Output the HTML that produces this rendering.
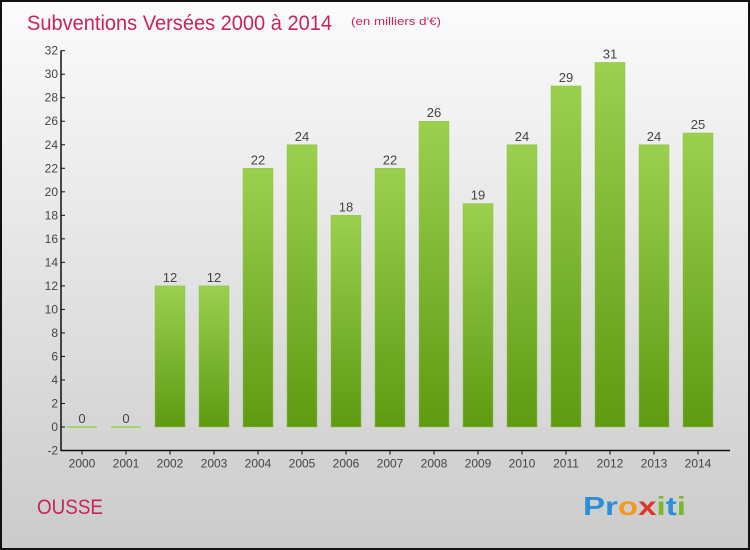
<!DOCTYPE html>
<html><head><meta charset="utf-8"><style>
body{margin:0;}
#wrap{position:relative;width:746px;height:546px;border:2px solid #111;background:linear-gradient(#fbfbfb,#cbcbcb);overflow:hidden;font-family:"Liberation Sans",sans-serif;}
</style></head><body>
<div id="wrap">
<svg id="chart" width="746" height="546">
<defs><linearGradient id="g" x1="0" y1="0" x2="0" y2="1"><stop offset="0" stop-color="#9bd04e"/><stop offset="1" stop-color="#5e9a12"/></linearGradient></defs>
<text x="25" y="28" font-size="21" fill="#c8245a" textLength="305" lengthAdjust="spacingAndGlyphs">Subventions Versées 2000 à 2014</text>
<text x="349" y="23" font-size="11" fill="#c8245a" textLength="90" lengthAdjust="spacingAndGlyphs">(en milliers d'€)</text>
<text x="35" y="512" font-size="21" fill="#c8245a" textLength="66" lengthAdjust="spacingAndGlyphs">OUSSE</text>
<g font-size="26" font-weight="bold" font-family="'Liberation Sans',sans-serif">
<text x="581" y="513" textLength="103" lengthAdjust="spacingAndGlyphs"><tspan fill="#2a8fd8">Pr</tspan><tspan fill="#f39a1e">o</tspan><tspan fill="#e0332e">x</tspan><tspan fill="#7ab82c">i</tspan><tspan fill="#2a8fd8">t</tspan><tspan fill="#7ab82c">i</tspan></text>
</g>
</svg>
</div>
<script>
const years=["2000","2001","2002","2003","2004","2005","2006","2007","2008","2009","2010","2011","2012","2013","2014"];
const values=[0,0,12,12,22,24,18,22,26,19,24,29,31,24,25];
const yTicks=[-2,0,2,4,6,8,10,12,14,16,18,20,22,24,26,28,30,32];
const svg=document.getElementById('chart');
const NS='http://www.w3.org/2000/svg';
const y=v=>425-v*11.76;
const x=i=>80+i*44;
function mk(t,a){const e=document.createElementNS(NS,t);for(const k in a)e.setAttribute(k,a[k]);svg.appendChild(e);return e;}
let ax=mk('path',{d:`M59,${y(32)}V${y(-2)}H728`,stroke:'#111','stroke-width':1.5,fill:'none'});


yTicks.forEach(v=>{
 let t=mk('line',{x1:59,x2:63,y1:y(v),y2:y(v),stroke:'#111'});
 
 
 let l=mk('text',{x:56,y:y(v)+4,'font-size':12,fill:'#444','text-anchor':'end'});
 l.textContent=v;
 
 
});
years.forEach((yr,i)=>{
 const cx=x(i),v=values[i];
 let t=mk('line',{x1:cx,x2:cx,y1:y(-2),y2:y(-2)+4,stroke:'#111'});
 
 
 let l=mk('text',{x:cx,y:y(-2)+17,'font-size':12,fill:'#444','text-anchor':'middle'});
 l.textContent=yr;
 
 
 let b;
 if(v===0){b=mk('rect',{x:cx-15,y:y(0)-1,width:30,height:2,fill:'#a5d46a'});}
 else b=mk('rect',{x:cx-15,y:y(v),width:30,height:y(0)-y(v),fill:'url(#g)',stroke:'#8cc63f','stroke-width':0.5});
 
 
 let vl=mk('text',{x:cx,y:y(v)-4,'font-size':13,fill:'#444','text-anchor':'middle'});
 vl.textContent=v;
 
 
});
</script>
</body></html>
